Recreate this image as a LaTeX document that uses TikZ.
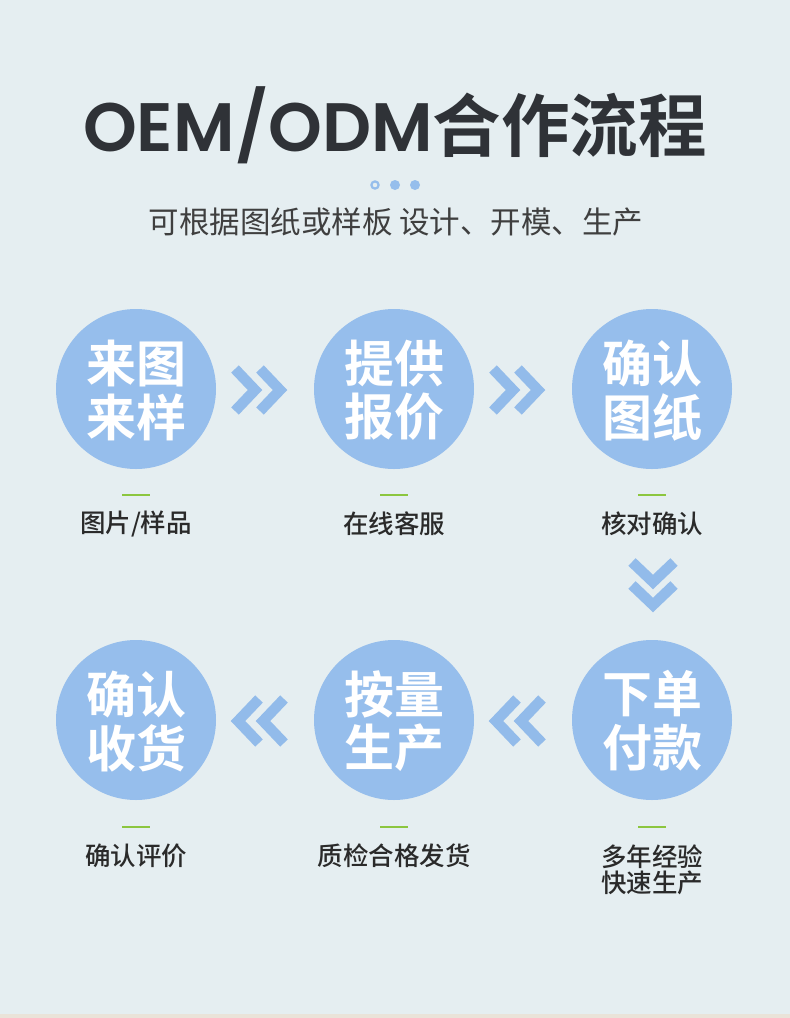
\documentclass[tikz,border=0pt]{standalone}
\usepackage{fontspec}
\setmainfont{Noto Sans CJK SC}
\newfontfamily\cjkb{Noto Sans CJK SC Bold}
\newfontfamily\cjkm{Noto Sans CJK SC Medium}
\newfontfamily\latb{Poppins SemiBold}
\definecolor{bg}{HTML}{E5EEF1}
\definecolor{circ}{HTML}{96BEEC}
\definecolor{chev}{HTML}{92BBEA}
\definecolor{grn}{HTML}{8CC63F}
\definecolor{ttl}{HTML}{2F3237}
\definecolor{txt}{HTML}{2A2A2A}
\definecolor{strip}{HTML}{EAE3D9}
\tikzset{
  stepcirc/.style={circle,fill=circ,minimum size=160pt,inner sep=0pt},
  ctext/.style={text=white,font=\cjkb\fontsize{50}{50}\selectfont,inner sep=0pt,anchor=center},
  lbl/.style={text=txt,font=\cjkm\fontsize{25.5}{25.5}\selectfont,inner sep=0pt,anchor=center},
  chevline/.style={draw=chev,line width=10.5pt,miter limit=10},
  gdash/.style={draw=grn,line width=2.5pt},
}
\begin{document}
\begin{tikzpicture}[x=1pt,y=-1pt]
\fill[bg] (0,0) rectangle (790,1018);
\fill[strip] (0,1014) rectangle (790,1018);
\useasboundingbox (0,0) rectangle (790,1018);
% title
\node[inner sep=0pt,text=ttl] (title) at (395,125) {\latb\fontsize{68.5}{68.5}\selectfont OEM/ODM\cjkb 合作流程};
% dots
\draw[circ,line width=2.2pt] (375,185) circle (3.6pt);
\fill[circ] (395,185) circle (5pt);
\fill[circ] (415,185) circle (5pt);
\node[inner sep=0pt,text=txt!90] (sub) at (396,222) {\fontsize{30.5}{30.5}\selectfont 可根据图纸或样板 设计、开模、生产};
% circles
\foreach \n/\x/\y/\a/\b in {c1/136/389/来图/来样, c2/394/389/提供/报价, c3/652/389/确认/图纸,
  c4/136/720/确认/收货, c5/394/720/按量/生产, c6/652/720/下单/付款}{
  \node[stepcirc] (\n) at (\x,\y) {};
  \node[ctext] at (\x,\y-26) {\a};
  \node[ctext] at (\x,\y+28) {\b};
}
% green dashes and labels
\foreach \x/\y in {136/495, 394/495, 652/495, 136/827, 394/827, 652/827}{
  \draw[gdash] (\x-14,\y) -- (\x+14,\y);
}
\node[lbl] (l1) at (136,524) {图片/样品};
\node[lbl] (l2) at (394,524) {在线客服};
\node[lbl] (l3) at (652,524) {核对确认};
\node[lbl] (l4) at (136,856) {确认评价};
\node[lbl] (l5) at (394,856) {质检合格发货};
\node[lbl,align=center] (l6) at (652,870) {多年经验\\[1pt]快速生产};
% chevrons right
\foreach \x in {235,260,493,518}{
  \draw[chevline] (\x,369) -- (\x+20,390) -- (\x,411);
}
% chevrons left
\foreach \x in {259,284,517,542}{
  \draw[chevline] (\x,699) -- (\x-21,721) -- (\x,743);
}
% chevron down
\foreach \y in {562,585}{
  \draw[chevline] (632,\y) -- (653,\y+20) -- (674,\y);
}
\end{tikzpicture}
\end{document}
